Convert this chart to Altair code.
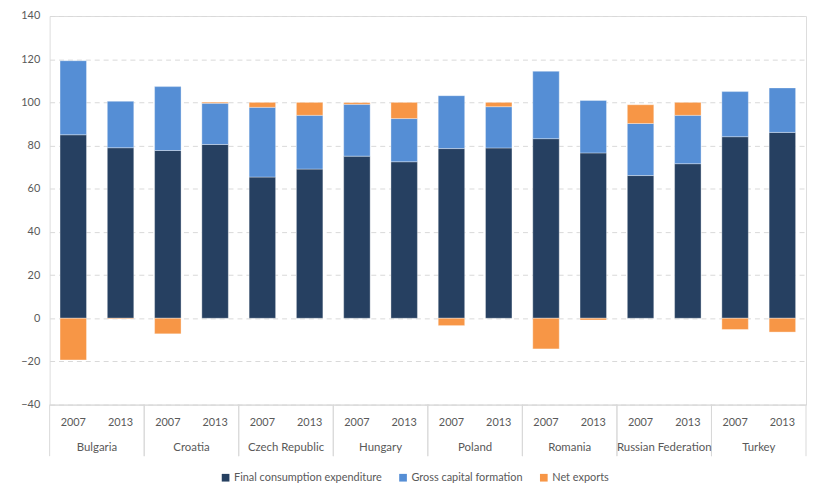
import altair as alt
import pandas as pd

countries = ["Bulgaria", "Croatia", "Czech Republic", "Hungary", "Poland",
             "Romania", "Russian Federation", "Turkey"]
years = ["2007", "2013"]
series = ["Final consumption expenditure", "Gross capital formation", "Net exports"]
colors = ["#264061", "#558ED5", "#F79646"]

# values in bar order: country x year
consumption = [85.0, 79.0, 77.7, 80.5, 65.4, 69.1, 75.1, 72.5,
               78.6, 78.9, 83.2, 76.6, 66.1, 71.6, 84.1, 86.1]
capital = [34.3, 21.5, 29.6, 19.1, 32.3, 24.9, 24.0, 20.0,
           24.5, 19.1, 31.2, 24.3, 24.1, 22.4, 20.9, 20.6]
net_exports = [-19.3, -0.3, -7.2, 0.5, 2.3, 6.0, 0.8, 7.5,
               -3.4, 2.0, -14.2, -0.8, 8.7, 6.0, -5.2, -6.4]

keys = [f"{c}|{y}" for c in countries for y in years]

rows = []
for i, k in enumerate(keys):
    for j, vals in enumerate([consumption, capital, net_exports]):
        rows.append({"key": k, "series": series[j], "order": j, "value": vals[i]})
df = pd.DataFrame(rows)

first_keys = pd.DataFrame({"key": [f"{c}|{years[0]}" for c in countries]})
last_keys = pd.DataFrame({"key": [f"{c}|{years[1]}" for c in countries],
                          "country": countries})

W, H = 763, 392
FONT = "Lato"
GREY = "#595959"

xscale = alt.Scale(domain=keys, paddingInner=0, paddingOuter=0)

bars = alt.Chart(df).mark_bar(
    width=alt.RelativeBandSize(0.56), stroke="white", strokeOpacity=0.35, strokeWidth=1
).encode(
    x=alt.X("key:N", scale=xscale, sort=keys,
            axis=alt.Axis(title=None, labelAngle=0, ticks=False, grid=False,
                          domainColor="#d9d9d9", labelColor=GREY, labelFont=FONT,
                          labelFontSize=11, labelPadding=12,
                          labelExpr="substring(datum.label, length(datum.label) - 4)")),
    y=alt.Y("value:Q", stack="zero",
            scale=alt.Scale(domain=[-40, 140], nice=False),
            axis=alt.Axis(title=None, values=list(range(-40, 141, 20)), domain=False,
                          ticks=False, gridDash=[5, 4], gridColor="#d9d9d9",
                          labelColor=GREY, labelFont=FONT, labelFontSize=11,
                          labelPadding=10)),
    color=alt.Color("series:N", scale=alt.Scale(domain=series, range=colors),
                    legend=alt.Legend(title=None, orient="none", direction="horizontal",
                                      legendX=172, legendY=460, symbolType="square",
                                      symbolSize=60, symbolStrokeWidth=0,
                                      labelFont=FONT, labelFontSize=11, labelColor=GREY,
                                      columnPadding=15, labelOffset=3)),
    order=alt.Order("order:Q"),
)

sep_left = alt.Chart(first_keys).mark_rule(color="#d9d9d9", strokeWidth=1).encode(
    x=alt.X("key:N", scale=xscale, sort=keys, bandPosition=0),
    y=alt.value(H), y2=alt.value(H + 52),
)
sep_right = alt.Chart(last_keys).mark_rule(color="#d9d9d9", strokeWidth=1).encode(
    x=alt.X("key:N", scale=xscale, sort=keys, bandPosition=1),
    y=alt.value(H), y2=alt.value(H + 52),
)
country_text = alt.Chart(last_keys).mark_text(
    font=FONT, fontSize=11.5, color=GREY, baseline="middle", align="center"
).encode(
    x=alt.X("key:N", scale=xscale, sort=keys, bandPosition=0),
    y=alt.value(H + 44),
    text="country:N",
)

chart = alt.layer(bars, sep_left, sep_right, country_text).properties(
    width=W, height=H,
    padding={"left": 12, "top": 0, "right": 0, "bottom": 0},
).configure_view(stroke=None).configure(background="white")

chart.save("out.html", embed_options={"renderer": "svg", "actions": False})
